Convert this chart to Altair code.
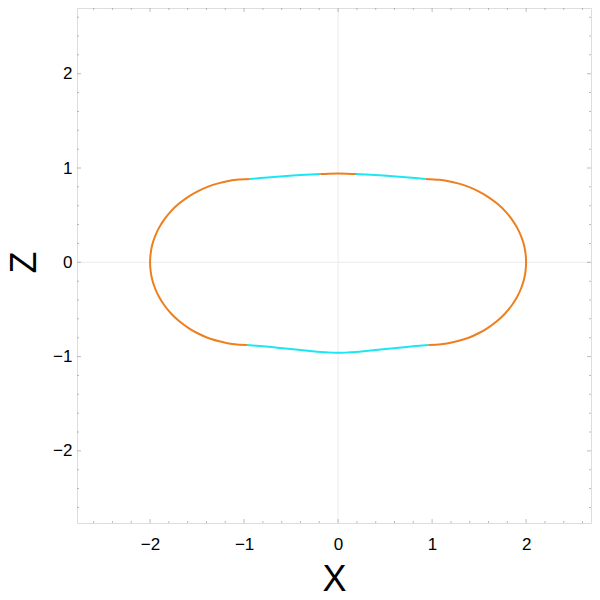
import altair as alt
import pandas as pd

# ---- curve segments (x, z) ----
left_arc_x = [-0.94, -1.082, -1.180, -1.267, -1.389, -1.499, -1.586, -1.695, -1.779, -1.852, -1.908,
              -1.949, -1.978, -1.994, -2.000,
              -1.994, -1.978, -1.949, -1.908, -1.852, -1.779, -1.695, -1.586, -1.499, -1.389,
              -1.275, -1.190, -1.100, -0.970]
left_arc_z = [0.883, 0.875, 0.860, 0.840, 0.800, 0.750, 0.700, 0.620, 0.540, 0.450, 0.360,
              0.270, 0.180, 0.090, 0.000,
              -0.090, -0.180, -0.270, -0.360, -0.450, -0.540, -0.620, -0.700, -0.750, -0.800,
              -0.835, -0.855, -0.868, -0.876]

right_arc_x = [0.93, 1.075, 1.175, 1.265, 1.389, 1.499, 1.586, 1.695, 1.779, 1.852, 1.908,
               1.949, 1.978, 1.994, 2.000,
               1.994, 1.978, 1.949, 1.908, 1.852, 1.779, 1.695, 1.586, 1.499, 1.389,
               1.275, 1.185, 1.095, 0.960]
right_arc_z = [0.884, 0.875, 0.860, 0.840, 0.800, 0.750, 0.700, 0.620, 0.540, 0.450, 0.360,
               0.270, 0.180, 0.090, 0.000,
               -0.090, -0.180, -0.270, -0.360, -0.450, -0.540, -0.620, -0.700, -0.750, -0.800,
               -0.835, -0.855, -0.868, -0.876]

top_left_x = [-0.94, -0.75, -0.55, -0.35, -0.19]
top_left_z = [0.883, 0.900, 0.915, 0.928, 0.936]

top_mid_x = [-0.19, -0.10, 0.00, 0.10, 0.19]
top_mid_z = [0.936, 0.940, 0.941, 0.940, 0.936]

top_right_x = [0.19, 0.35, 0.55, 0.75, 0.93]
top_right_z = [0.936, 0.928, 0.915, 0.900, 0.884]

bottom_x = [-0.97, -0.80, -0.62, -0.45, -0.27, -0.12, 0.00, 0.12, 0.27, 0.45, 0.62, 0.80, 0.96]
bottom_z = [-0.876, -0.891, -0.908, -0.925, -0.943, -0.955, -0.960, -0.955, -0.943, -0.925, -0.908, -0.891, -0.876]

ORANGE = "#EE7F1E"
CYAN = "#1EE6F0"

segments = [
    ("leftarc", left_arc_x, left_arc_z, ORANGE),
    ("rightarc", right_arc_x, right_arc_z, ORANGE),
    ("topleft", top_left_x, top_left_z, CYAN),
    ("topmid", top_mid_x, top_mid_z, ORANGE),
    ("topright", top_right_x, top_right_z, CYAN),
    ("bottom", bottom_x, bottom_z, CYAN),
]

rows = []
for name, xs, zs, col in segments:
    for i, (xv, zv) in enumerate(zip(xs, zs)):
        rows.append({"x": xv, "z": zv, "seg": name, "ord": i, "col": col})
curve_df = pd.DataFrame(rows)

major_ticks = [-2, -1, 0, 1, 2]
minor_ticks = [-2.6, -2.4, -2.2, -1.8, -1.6, -1.4, -1.2, -0.8, -0.6, -0.4, -0.2,
               0.2, 0.4, 0.6, 0.8, 1.2, 1.4, 1.6, 1.8, 2.2, 2.4, 2.6]

X_DOM = [-2.777, 2.69]
Z_DOM = [-2.765, 2.697]

FRAME = "#a0a0a0"
FONT = "Liberation Sans"

xscale = alt.Scale(domain=X_DOM, nice=False, zero=False)
zscale = alt.Scale(domain=Z_DOM, nice=False, zero=False)

x_axis = alt.Axis(values=major_ticks, format="d", tickSize=0, domain=False, grid=False,
                  labelFontSize=17, labelFont=FONT, labelColor="black", labelPadding=13,
                  title="X", titleFont=FONT, titleFontSize=36, titleFontWeight="normal",
                  titleColor="black", titleBaseline="alphabetic", titleY=67)
z_axis = alt.Axis(values=major_ticks, format="d", tickSize=0, domain=False, grid=False,
                  labelFontSize=17, labelFont=FONT, labelColor="black", labelPadding=5,
                  title="Z", titleFont=FONT, titleFontSize=36, titleFontWeight="normal",
                  titleColor="black", titleBaseline="alphabetic", titleX=-42, titleY=254,
                  titleAngle=270)

grid_df = pd.DataFrame({"v": [0]})
gx = alt.Chart(grid_df).mark_rule(color="#ebebeb", strokeWidth=1).encode(
    x=alt.X("v:Q", scale=xscale, axis=x_axis))
gz = alt.Chart(grid_df).mark_rule(color="#ebebeb", strokeWidth=1).encode(
    y=alt.Y("v:Q", scale=zscale, axis=z_axis))

curve = alt.Chart(curve_df).mark_line(strokeWidth=2, clip=True, interpolate="catmull-rom").encode(
    x=alt.X("x:Q", scale=xscale),
    y=alt.Y("z:Q", scale=zscale),
    color=alt.Color("col:N", scale=None),
    detail="seg:N",
    order="ord:Q",
)

def tick_layers(values, size):
    df = pd.DataFrame({"t": values})
    base = alt.Chart(df)
    layers = []
    for edge in (Z_DOM[0], Z_DOM[1]):
        layers.append(base.mark_tick(orient="vertical", size=size, thickness=1,
                                     color=FRAME, clip=True).encode(
            x=alt.X("t:Q", scale=xscale), y=alt.datum(edge)))
    for edge in (X_DOM[0], X_DOM[1]):
        layers.append(base.mark_tick(orient="horizontal", size=size, thickness=1,
                                     color=FRAME, clip=True).encode(
            y=alt.Y("t:Q", scale=zscale), x=alt.datum(edge)))
    return layers

ticks = tick_layers(major_ticks, 8) + tick_layers(minor_ticks, 4)

chart = alt.layer(gx, gz, curve, *ticks).properties(
    width=514, height=515,
    autosize=alt.AutoSizeParams(type="none"),
    padding={"left": 69, "top": 0, "right": 1, "bottom": 69},
).configure_view(stroke=FRAME, strokeWidth=1).configure(background="white")

chart.save("out.html", embed_options={"renderer": "svg", "actions": False})
